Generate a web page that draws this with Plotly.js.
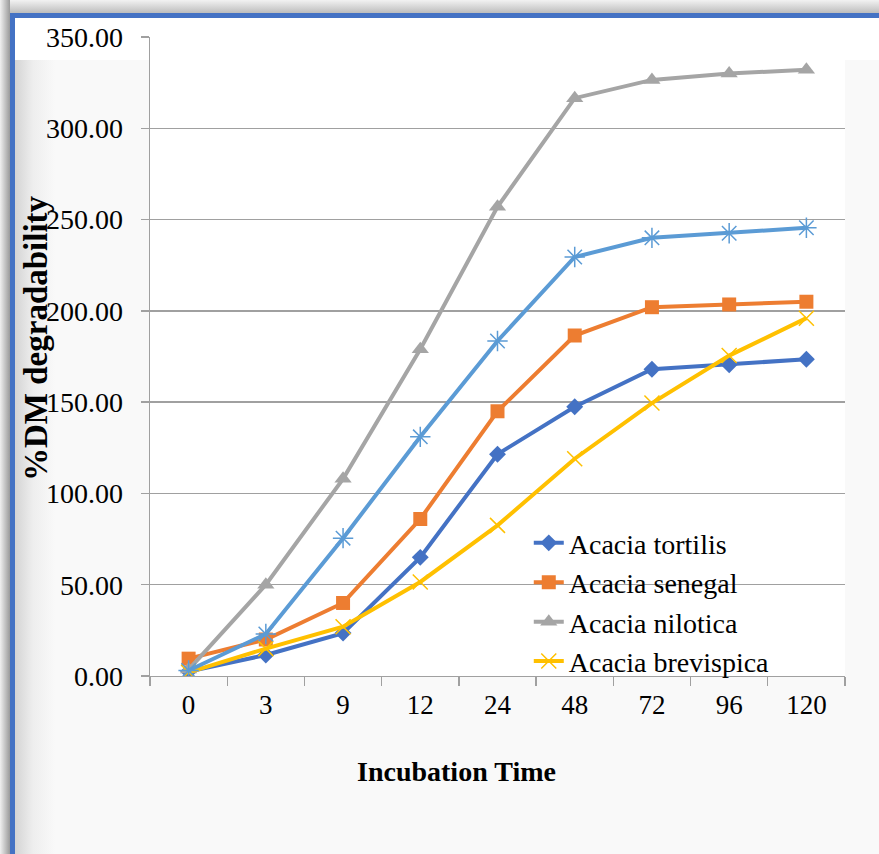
<!DOCTYPE html>
<html>
<head>
<meta charset="utf-8">
<script src="https://cdn.plot.ly/plotly-3.0.1.min.js"></script>
<style>
  html, body { margin: 0; padding: 0; width: 879px; height: 854px; overflow: hidden; }
  body { background: linear-gradient(to bottom, #f2f2f2 0px, #bdbdbd 13px, #d6d6d6 13px); position: relative; }
  #shadowL { position: absolute; left: 0; top: 0; width: 10px; height: 854px;
    background: linear-gradient(to right, #f0f0f0, #9a9a9a); }
  #frame { position: absolute; left: 10px; top: 13px; width: 880px; height: 839px;
    border-left: 5px solid #4472C4; border-top: 5px solid #4472C4; border-bottom: 2px solid #e2e2ee;
    background:
      linear-gradient(to bottom, #ffffff 0px, #ffffff 42px, rgba(255,255,255,0) 42px),
      linear-gradient(to right, #d4d4d4 0px, #eeeeee 18px, #f7f7f7 36px, #f9f9f9 40px);
  }
  #chart { position: absolute; left: 0; top: 0; width: 879px; height: 854px; }
</style>
</head>
<body>
<div id="shadowL"></div>
<div id="frame"></div>
<div id="chart"></div>
<script>
const times = ['0', '3', '9', '12', '24', '48', '72', '96', '120'];
const tortilis   = [2.5, 11.5, 23.5, 65, 121.5, 147.5, 168, 170.5, 173.5];
const senegal    = [9.5, 20, 40, 86, 145, 186.5, 202, 203.5, 205];
const nilotica   = [3.5, 50, 108, 179, 257, 316.5, 326.5, 330, 332];
const brevispica = [2, 15, 27, 51.5, 82.5, 119, 149.5, 175.5, 196];
const series5    = [3, 23, 75.5, 131, 183.5, 229.5, 240, 242.5, 245.5];
const names = ['Acacia tortilis', 'Acacia senegal', 'Acacia nilotica', 'Acacia brevispica'];
const yTicks = [0, 50, 100, 150, 200, 250, 300, 350];

const serif = 'Liberation Serif, Times New Roman, serif';

function tr(y, name, color, symbol, size, show, mline) {
  return {
    x: times, y: y, name: name, type: 'scatter', mode: 'lines+markers',
    showlegend: show,
    line: { color: color, width: 4 },
    marker: { color: color, symbol: symbol, size: size, line: { color: color, width: mline || 0 } }
  };
}

const data = [
  tr(tortilis, names[0], '#4472C4', 'diamond', 13, true),
  tr(senegal, names[1], '#ED7D31', 'square', 14, true),
  tr(nilotica, names[2], '#A5A5A5', 'triangle-up', 15, true),
  tr(brevispica, names[3], '#FFC000', 'x-thin-open', 15, true, 1.5),
  tr(series5, 'Series 5', '#5B9BD5', 'asterisk-open', 17, false, 1.5)
];

const layout = {
  width: 879, height: 854,
  margin: { l: 150, r: 34, t: 37, b: 178 },
  paper_bgcolor: 'rgba(0,0,0,0)',
  plot_bgcolor: '#ffffff',
  showlegend: true,
  font: { family: serif, color: '#000000', size: 27 },
  xaxis: {
    type: 'category', range: [-0.5, 8.5],
    showgrid: false, zeroline: false,
    showline: true, linecolor: '#a0a0a0', linewidth: 1.3,
    ticks: 'outside', tickson: 'boundaries', ticklen: 9, tickcolor: '#a0a0a0', tickwidth: 1.3,
    tickfont: { family: serif, size: 27, color: '#000' },
    ticklabelstandoff: 4,
    fixedrange: true
  },
  yaxis: {
    range: [0, 350], tickvals: yTicks, tickformat: '.2f',
    showgrid: true, gridcolor: '#a0a0a0', gridwidth: 1.3,
    zeroline: false,
    showline: true, linecolor: '#a0a0a0', linewidth: 1.3,
    ticks: 'outside', ticklen: 8, tickcolor: '#a0a0a0', tickwidth: 1.3,
    tickfont: { family: serif, size: 28, color: '#000' },
    ticklabelstandoff: 12,
    fixedrange: true
  },
  legend: {
    x: 0.545, y: 0.247, xanchor: 'left', yanchor: 'top',
    bgcolor: 'rgba(0,0,0,0)', borderwidth: 0,
    font: { family: serif, size: 28, color: '#000' },
    tracegroupgap: 0
  },
  annotations: [{
    text: 'Incubation Time', xref: 'paper', yref: 'paper',
    x: 0.4417, y: -0.149, xanchor: 'center', yanchor: 'middle',
    showarrow: false, font: { family: serif, size: 28, color: '#000', weight: 'bold' }
  }, {
    text: '%DM degradability', xref: 'paper', yref: 'paper',
    x: -0.164, y: 0.529, xanchor: 'center', yanchor: 'middle', textangle: -90,
    showarrow: false, font: { family: serif, size: 33, color: '#000', weight: 'bold' }
  }]
};

Plotly.newPlot('chart', data, layout, { displayModeBar: false, staticPlot: true });
</script>
</body>
</html>
